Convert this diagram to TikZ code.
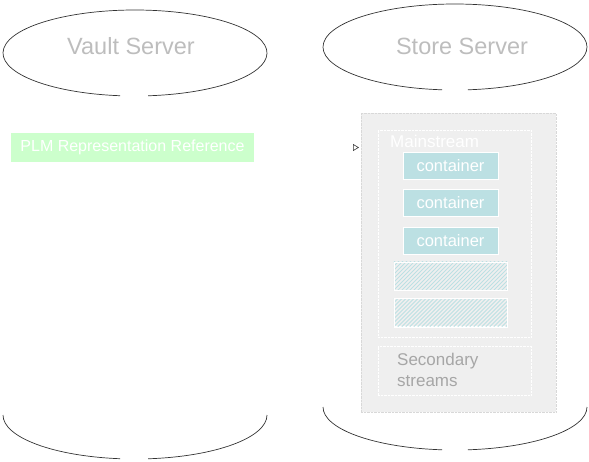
\documentclass[tikz,border=0pt]{standalone}
\usepackage{fontspec}
\setmainfont{Liberation Sans}
\usetikzlibrary{arrows.meta}
\definecolor{plmgreen}{HTML}{CCFFCC}
\definecolor{cont}{HTML}{BCE0E3}
\definecolor{boxgrey}{HTML}{EFEFEF}
\definecolor{edgegrey}{HTML}{D8D8D8}
\definecolor{labelgrey}{HTML}{BDBDBD}
\definecolor{outline}{HTML}{333333}
\tikzset{
  cyl/.style={draw=outline, line width=0.7pt},
  srvlabel/.style={text=labelgrey, font=\fontsize{23.5}{28}\selectfont},
  contbox/.style={draw=white, fill=cont, text=white, minimum width=95pt, minimum height=27pt, inner sep=0pt, font=\fontsize{16.5}{20}\selectfont},
  hatchbox/.style={draw=white, fill=boxgrey, minimum width=113pt, minimum height=28pt, inner sep=0pt},
  hatchline/.style={draw=cont, line width=0.9pt},
  streambox/.style={draw=white, densely dotted, fill=boxgrey, inner sep=0pt},
  streamlabel/.style={text=gray!70, font=\fontsize{17}{20}\selectfont, anchor=west, inner sep=0pt},
}
\begin{document}
\begin{tikzpicture}[x=1pt,y=-1pt]
\useasboundingbox (0,0) rectangle (589,461);
% Vault server cylinder
\draw[cyl] (135,53) ++(96.5:132 and 43) arc[start angle=96.5, end angle=444.3, x radius=132, y radius=43];
\draw[cyl] (135,415) ++(0:132 and 44) arc[start angle=0, end angle=84.3, x radius=132, y radius=44];
\draw[cyl] (135,415) ++(96.5:132 and 44) arc[start angle=96.5, end angle=180, x radius=132, y radius=44];
\node[srvlabel] (vault) at (131,46) {Vault Server};
% Store server cylinder
\draw[cyl] (455,47) ++(95.6:132 and 43) arc[start angle=95.6, end angle=444.4, x radius=132, y radius=43];
\draw[cyl] (455,407) ++(0:132 and 43) arc[start angle=0, end angle=84.4, x radius=132, y radius=43];
\draw[cyl] (455,407) ++(95.6:132 and 43) arc[start angle=95.6, end angle=180, x radius=132, y radius=43];
\node[srvlabel] (store) at (462,46) {Store Server};
% PLM box
\node[fill=plmgreen, text=white, minimum width=243pt, minimum height=29pt, inner sep=0pt, font=\fontsize{16}{20}\selectfont] (plm) at (132.5,147.5) {PLM Representation Reference};
% store contents
\node[draw=edgegrey, densely dotted, fill=boxgrey, minimum width=195pt, minimum height=299pt, inner sep=0pt] (storebox) at (458.5,262.5) {};
\node[streambox, minimum width=153pt, minimum height=207pt] (main) at (454.5,233.5) {};
\node[streamlabel, text=white] (mainlbl) at (390,141) {Mainstream};
\node[contbox] (c1) at (450.5,165.5) {container};
\node[contbox] (c2) at (450.5,202.5) {container};
\node[contbox] (c3) at (450.5,240.5) {container};
\node[hatchbox] (h1) at (450.5,276) {};
\node[hatchbox] (h2) at (450.5,312.5) {};
\foreach \h in {h1,h2}{
  \begin{scope}
    \clip (\h.south west) rectangle (\h.north east);
    \foreach \d in {-32,-28,...,116}{
      \draw[hatchline] ([xshift=\d pt]\h.south west) -- ++(30,-30);
    }
  \end{scope}
  \draw[white] (\h.south west) rectangle (\h.north east);
}
\node[streambox, minimum width=153pt, minimum height=49pt] (sec) at (454.5,370.5) {};
\node[streamlabel] (seclbl1) at (397,361) {Secondary};
\node[streamlabel] (seclbl2) at (397,381) {streams};
% connector
\coordinate (tip) at (359,147.5);
\draw[white, line width=0.6pt, -{Triangle[open, length=6pt, width=7pt, color=outline]}] (plm.east) -- (tip);
\end{tikzpicture}
\end{document}
